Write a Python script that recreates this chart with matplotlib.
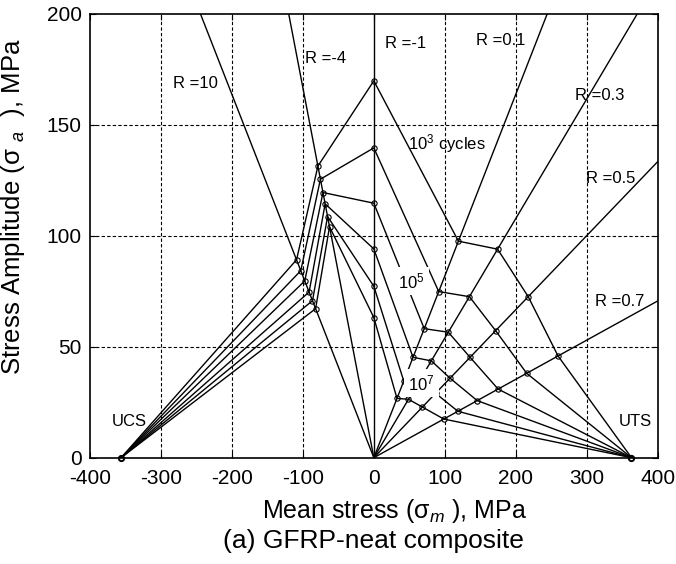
import numpy as np
import matplotlib
matplotlib.use("Agg")
import matplotlib.pyplot as plt

plt.rcParams['font.family'] = ['Liberation Sans', 'DejaVu Sans']
plt.rcParams['mathtext.fontset'] = 'custom'
plt.rcParams['mathtext.rm'] = 'Liberation Sans'
plt.rcParams['mathtext.it'] = 'Liberation Sans:italic'
plt.rcParams['mathtext.bf'] = 'Liberation Sans:bold'

# ---- data ----
R_values = [10, -4, -1, 0.1, 0.3, 0.5, 0.7]
R_labels = ["R =10", "R =-4", "R =-1", "R =0.1", "R =0.3", "R =0.5", "R =0.7"]
UCS = -356.0
UTS = 363.0
# stress amplitude (MPa) on each R line, for the six constant-life curves
amp_R10 = [89.1, 84.2, 79.6, 74.6, 70.7, 67.1]
amp_Rm4 = [131.3, 125.4, 119.4, 114.3, 108.6, 104.0]
amp_Rm1 = [169.7, 139.5, 114.6, 94.0, 77.2, 63.1]
amp_R01 = [97.5, 74.8, 58.1, 45.2, 34.5, 26.7]
amp_R03 = [93.9, 72.5, 56.5, 43.6, 34.0, 26.3]
amp_R05 = [72.5, 57.2, 45.2, 35.8, 29.0, 22.8]
amp_R07 = [45.8, 38.0, 30.9, 25.7, 20.9, 17.4]
amp_table = [amp_R10, amp_Rm4, amp_Rm1, amp_R01, amp_R03, amp_R05, amp_R07]
x_ticks = [-400, -300, -200, -100, 0, 100, 200, 300, 400]
y_ticks = [0, 50, 100, 150, 200]

fig = plt.figure(figsize=(6.76, 5.64), dpi=100)
ax = fig.add_axes([0.133, 0.1885, 0.840, 0.7875])
ax.set_xlim(-400, 400)
ax.set_ylim(0, 200)

# grid (dashed)
for gx in x_ticks[1:-1]:
    if gx != 0:
        ax.axvline(gx, color='black', lw=0.8, ls=(0, (3, 2)), zorder=1)
for gy in y_ticks[1:-1]:
    ax.axhline(gy, color='black', lw=0.8, ls=(0, (3, 2)), zorder=1)

# R rays from origin
for R in R_values:
    if R == -1:
        ax.axvline(0, color='black', lw=1.0, zorder=2)
    else:
        ax.axline((0, 0), slope=(1 - R) / (1 + R), color='black', lw=1.0, zorder=2)

# constant-life curves
n_curves = len(amp_Rm1)
for i in range(n_curves):
    xs = [UCS]
    ys = [0.0]
    for R, amps in zip(R_values, amp_table):
        a = amps[i]
        xs.append(a * (1 + R) / (1 - R))
        ys.append(a)
    xs.append(UTS)
    ys.append(0.0)
    ax.plot(xs, ys, color='black', lw=1.0, zorder=3)
    ax.plot(xs[1:-1], ys[1:-1], ls='none', marker='o', ms=3.8, mfc='none',
            mec='black', mew=0.8, zorder=4)
ax.plot([UCS, UTS], [0, 0], ls='none', marker='o', ms=3.8, mfc='none',
        mec='black', mew=1.4, zorder=4, clip_on=False)

# labels on R lines
fs = 12
ax.text(-283, 168.6, "R =10", fontsize=fs, va='center', ha='left')
ax.text(-97, 179.6, "R =-4", fontsize=fs, va='center', ha='left')
ax.text(15.5, 186.7, "R =-1", fontsize=fs, va='center', ha='left')
ax.text(144.6, 188, "R =0.1", fontsize=fs, va='center', ha='left')
ax.text(283, 163, "R =0.3", fontsize=fs, va='center', ha='left')
ax.text(299.5, 125.5, "R =0.5", fontsize=fs, va='center', ha='left')
ax.text(311, 70.4, "R =0.7", fontsize=fs, va='center', ha='left')
ax.text(-369, 16.3, "UCS", fontsize=fs, va='center', ha='left')
ax.text(345.5, 16.3, "UTS", fontsize=fs, va='center', ha='left')
ax.text(48, 141.5, "10$^3$ cycles", fontsize=fs, va='center', ha='left', zorder=6)
ax.text(53, 79.5, "10$^5$", fontsize=fs, va='center', ha='center', zorder=6,
        bbox=dict(facecolor='white', edgecolor='none', pad=3))
ax.text(67, 33.5, "10$^7$", fontsize=fs, va='center', ha='center', zorder=6,
        bbox=dict(facecolor='white', edgecolor='none', pad=3))

ax.set_xticks(x_ticks)
ax.set_yticks(y_ticks)
ax.set_xticklabels([str(v) for v in x_ticks])
ax.set_yticklabels([str(v) for v in y_ticks])
ax.tick_params(direction='in', length=4, width=0.8, labelsize=15, top=True, right=True)
ax.tick_params(axis='x', pad=8)
ax.tick_params(axis='y', pad=6)
for s in ax.spines.values():
    s.set_linewidth(1.2)

ax.set_xlabel("Mean stress (σ$_m$ ), MPa", fontsize=18)
ax.set_ylabel("Stress Amplitude (σ $_a$  ), MPa", fontsize=18.5)
# label anchor positions (axes fraction)
ax.xaxis.set_label_coords((395 - 90) / 568, -(497 - 457.7) / 444.4)
ax.yaxis.set_label_coords((27 - 90) / 568, 0.565)
fig.text(373.5 / 676, 1 - 541 / 564, "(a) GFRP-neat composite", fontsize=19,
         ha='center', va='center')

fig.savefig("out.png", dpi=100)
